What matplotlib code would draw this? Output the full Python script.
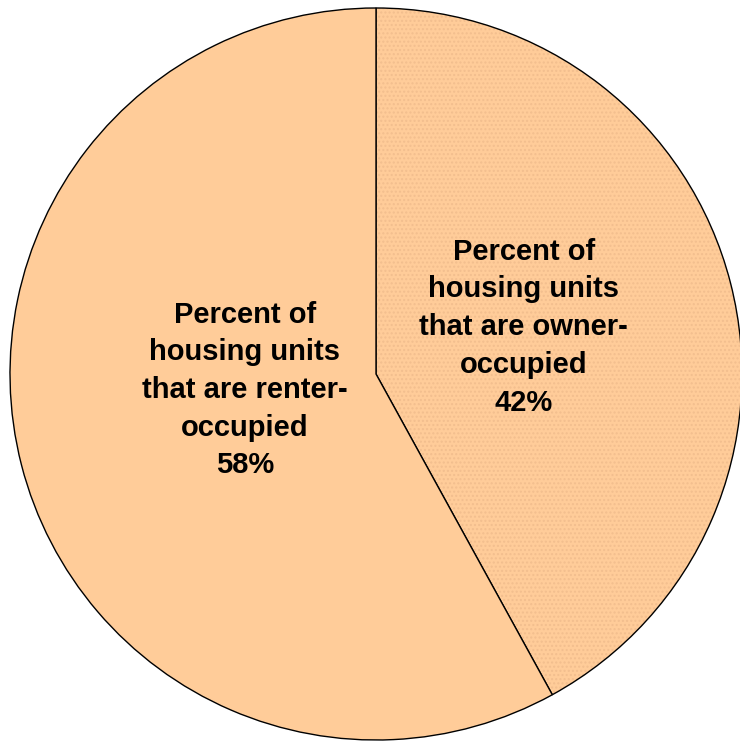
import matplotlib
matplotlib.use("Agg")
import matplotlib.pyplot as plt

# housing tenure split
labels = ["Percent of\nhousing units\nthat are owner-\noccupied\n42%",
          "Percent of\nhousing units\nthat are renter-\noccupied\n58%"]
shares = [42, 58]

plt.rcParams['font.family'] = ['Liberation Sans', 'DejaVu Sans']

fig = plt.figure(figsize=(7.40, 7.41), dpi=100)
# circle centre ~ (376, 374) px, radius ~ 366 px
cx, cy, r = 376, 374, 366
ax = fig.add_axes([(cx - r) / 740, (741 - cy - r) / 741, 2 * r / 740, 2 * r / 741])

wedges, _ = ax.pie(shares, startangle=90, counterclock=False, radius=1,
                   colors=["#FFCC99", "#FFCC99"],
                   wedgeprops=dict(edgecolor="black", linewidth=1.0))
# owner slice has a fine dotted fill
wedges[0].set_hatch("....")
wedges[0]._hatch_color = matplotlib.colors.to_rgba("#F2BE8E")

ax.set_xlim(-1, 1)
ax.set_ylim(-1, 1)
ax.set_aspect("equal")
ax.axis("off")

ax.text(0.404, 0.128, labels[0], ha="center", va="center", fontsize=21,
        fontweight="bold", linespacing=1.44)
ax.text(-0.358, -0.044, labels[1], ha="center", va="center", fontsize=21,
        fontweight="bold", linespacing=1.44)

fig.savefig("out.png", dpi=100)
